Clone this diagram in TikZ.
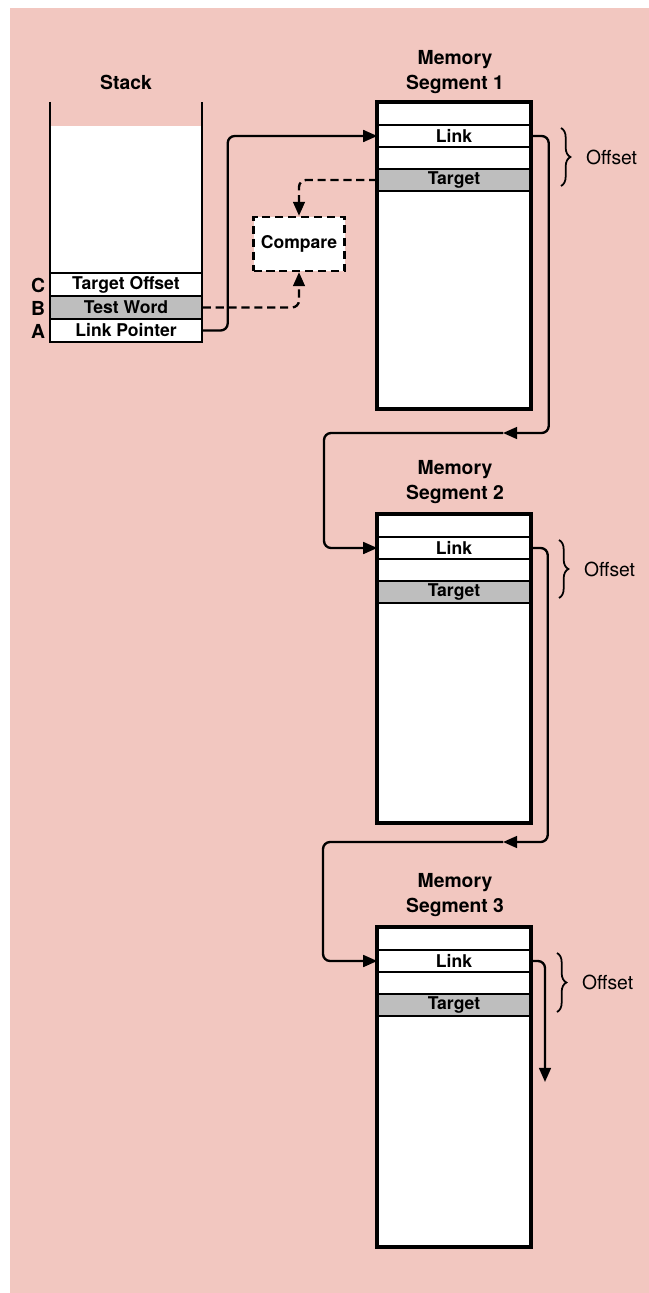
\documentclass[tikz,border=0pt]{standalone}
\usepackage{fontspec}
\setmainfont{TeX Gyre Heros}
\usepackage{xcolor}
\usetikzlibrary{arrows.meta,positioning,calc,decorations.pathreplacing}
\definecolor{paperpink}{RGB}{242, 199, 192}
\definecolor{hatchgray}{RGB}{190, 190, 190}

\begin{document}
\begin{tikzpicture}[x=0.03cm, y=-0.03cm, >={Triangle[length=12pt,width=10pt]},
    title/.style={font=\fontsize{16.5}{21}\selectfont\bfseries, align=center},
    segbox/.style={draw, line width=2.5pt, fill=white, minimum width=4.56cm, inner sep=0pt},
    cell/.style={draw, line width=1.2pt, fill=white, minimum width=4.56cm, minimum height=0.66cm, inner sep=0pt, font=\fontsize{15}{16}\selectfont\bfseries},
    shade/.style={cell, fill=hatchgray},
    wire/.style={line width=2pt, rounded corners=6pt},
    dashwire/.style={wire, dash pattern=on 7pt off 4pt},
    offbrace/.style={line width=1.5pt, decorate, decoration={brace, amplitude=8pt}},
    offlabel/.style={font=\fontsize{16.5}{18}\selectfont, anchor=west}]
    \useasboundingbox (0,0) rectangle (649,1293);
    \fill[paperpink] (10,8) rectangle (649,1293);

    % Stack
    \node[title] (STK_T) at (126, 82) {Stack};
    \node[fill=white, minimum width=4.5cm, minimum height=4.41cm, inner sep=0pt] (STK) at (126, 199.5) {};
    \node[cell, minimum height=0.69cm] (SC) at (126, 284.5) {Target Offset};
    \node[shade, minimum height=0.69cm] (SB) at (126, 307.5) {Test Word};
    \node[cell, minimum height=0.69cm] (SA) at (126, 330.5) {Link Pointer};
    \draw[line width=2.5pt] (50, 102) -- (50, 342) -- (202, 342) -- (202, 102);
    \node[title] (LC) at (38, 285) {C};
    \node[title] (LB) at (38, 308) {B};
    \node[title] (LA) at (38, 331) {A};

    % Compare box
    \node[draw, dash pattern=on 7pt off 4pt, line width=2pt, fill=white, minimum width=2.73cm, minimum height=1.62cm, font=\fontsize{15}{16}\selectfont\bfseries] (CMP) at (299, 244) {Compare};

    % Memory Segment 1
    \node[title] (S1_T) at (455, 72) {Memory\\Segment 1};
    \node[segbox, minimum height=9.15cm] (SEG1) at (454, 255.5) {};
    \node[cell] (S1A) at (454, 114) {};
    \node[cell] (S1L) at (454, 136) {Link};
    \node[cell] (S1B) at (454, 158) {};
    \node[shade] (S1G) at (454, 180) {Target};
    \draw[line width=2.5pt] (SEG1.north west) rectangle (SEG1.south east);

    % Memory Segment 2
    \node[title] (S2_T) at (455, 482) {Memory\\Segment 2};
    \node[segbox, minimum height=9.21cm] (SEG2) at (454, 668.5) {};
    \node[cell] (S2A) at (454, 526) {};
    \node[cell] (S2L) at (454, 548) {Link};
    \node[cell] (S2B) at (454, 570) {};
    \node[shade] (S2G) at (454, 592) {Target};
    \draw[line width=2.5pt] (SEG2.north west) rectangle (SEG2.south east);

    % Memory Segment 3
    \node[title] (S3_T) at (455, 895) {Memory\\Segment 3};
    \node[segbox, minimum height=9.54cm] (SEG3) at (454, 1087) {};
    \node[cell] (S3A) at (454, 939) {};
    \node[cell] (S3L) at (454, 961) {Link};
    \node[cell] (S3B) at (454, 983) {};
    \node[shade] (S3G) at (454, 1005) {Target};
    \draw[line width=2.5pt] (SEG3.north west) rectangle (SEG3.south east);

    % Offset braces
    \draw[offbrace] (561, 128) -- (561, 186);
    \node[offlabel] (OFF1) at (582, 157) {Offset};
    \draw[offbrace] (559, 540) -- (559, 598);
    \node[offlabel] (OFF2) at (580, 569) {Offset};
    \draw[offbrace] (557, 953) -- (557, 1012);
    \node[offlabel] (OFF3) at (578, 982) {Offset};

    % Pointers
    \draw[wire, ->] (SA.east) -- ++(25, 0) |- (S1L.west);
    \draw[dashwire, ->] (SB.east) -| (CMP.south);
    \draw[dashwire, ->] (S1G.west) -| (CMP.north);

    \coordinate (J1) at (503, 433);
    \coordinate (J2) at (503, 842);
    \coordinate (TAIL) at (545, 1082);
    \draw[wire, ->] (S1L.east) -- ++(18, 0) |- (J1);
    \draw[wire, ->] (J1) -- ++(-179, 0) |- (S2L.west);
    \draw[wire, ->] (S2L.east) -- ++(17, 0) |- (J2);
    \draw[wire, ->] (J2) -- ++(-180, 0) |- (S3L.west);
    \draw[wire, ->] (S3L.east) -| (TAIL);
\end{tikzpicture}
\end{document}
